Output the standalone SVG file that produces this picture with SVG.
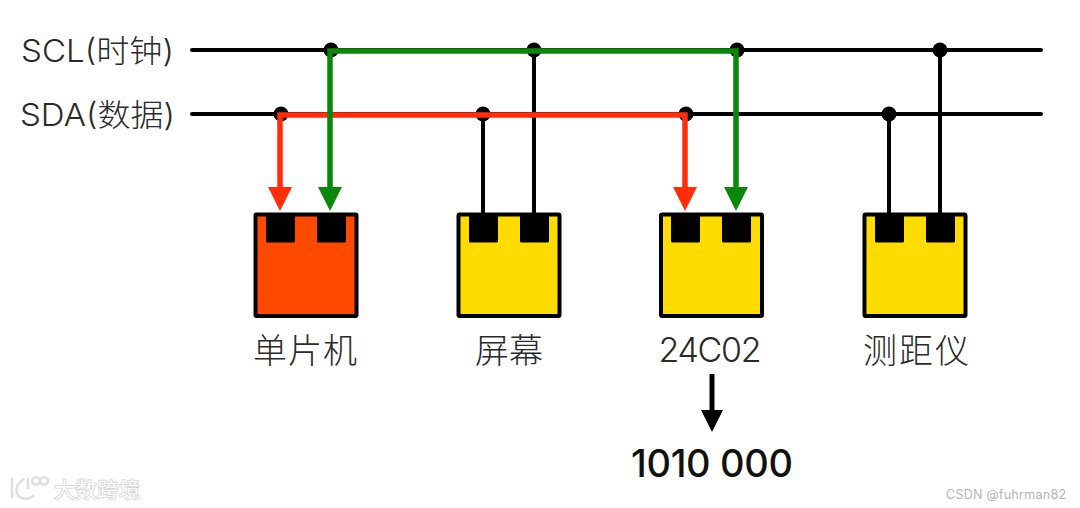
<svg xmlns="http://www.w3.org/2000/svg" width="1080" height="508" viewBox="0 0 1080 508">
<style>
text{font-family:"Inter","Liberation Sans","Noto Sans CJK SC",sans-serif;fill:#2a2a2a}
.lbl{font-size:34px;text-anchor:middle;font-weight:300}
.sig{font-weight:300}
.w{stroke:#000;stroke-width:4;fill:none;stroke-linecap:round}
.g{stroke:#0b870b;stroke-width:5.5;fill:none}
.r{stroke:#ff2d0a;stroke-width:5.5;fill:none}
.box{stroke:#000;stroke-width:4;fill:#ffdc00}
</style>
<defs>
<g id="pins"><rect x="12" y="0" width="29" height="28.5" rx="1.5" fill="#000"/><rect x="63" y="0" width="29" height="28.5" rx="1.5" fill="#000"/></g>
</defs>
<rect width="1080" height="508" fill="#fff"/>
<g id="connectors">
<path class="w" d="M192 50H1041M192 114H1041"/>
<path class="w" d="M483 114V214M534 50V214M889 114V214M940 50V214"/>
<g fill="#000"><circle cx="331" cy="50" r="7.5"/><circle cx="534" cy="50" r="7.5"/><circle cx="737" cy="50" r="7.5"/><circle cx="940" cy="50" r="7.5"/><circle cx="281" cy="114" r="7.5"/><circle cx="483" cy="114" r="7.5"/><circle cx="686" cy="114" r="7.5"/><circle cx="889" cy="114" r="7.5"/></g>
<path class="r" d="M685 188V115H280V188"/>
<path class="g" d="M330 188V51H736V188"/>
<polygon fill="#ff2d0a" points="268,187 292,187 280,211"/>
<polygon fill="#0b870b" points="318,187 342,187 330,211"/>
<polygon fill="#ff2d0a" points="673,187 697,187 685,211"/>
<polygon fill="#0b870b" points="724,187 748,187 736,211"/>
<path d="M712 374V412" stroke="#000" stroke-width="5"/>
<polygon fill="#000" points="701,410 723,410 712,432"/>
</g>
<text class="sig" x="21" y="62" textLength="153" lengthAdjust="spacingAndGlyphs" font-size="31">SCL(时钟)</text>
<text class="sig" x="20" y="126" textLength="155" lengthAdjust="spacingAndGlyphs" font-size="31">SDA(数据)</text>
<g id="mcu"><rect class="box" x="255.5" y="214.5" width="101" height="101.5" rx="1" style="fill:#ff4800"/><use href="#pins" x="254" y="214"/><text class="lbl" x="305" y="363" textLength="104">单片机</text></g>
<g id="screen"><rect class="box" x="458.5" y="214.5" width="101" height="101.5" rx="1"/><use href="#pins" x="457" y="214"/><text class="lbl" x="509" y="363">屏幕</text></g>
<g id="eeprom"><rect class="box" x="661" y="214.5" width="101" height="101.5" rx="1"/><use href="#pins" x="659" y="214"/><text class="lbl" x="710" y="362" textLength="103">24C02</text></g>
<g id="ranger"><rect class="box" x="864.5" y="214.5" width="101" height="101.5" rx="1"/><use href="#pins" x="863" y="214"/><text class="lbl" x="916" y="363" textLength="106">测距仪</text></g>
<text x="712" y="477" text-anchor="middle" textLength="162" style="font-size:38px;font-weight:500;fill:#111">1010 000</text>
<g id="logo" fill="none" stroke="#dedede" stroke-width="2.5"><path d="M12 478V498M24 479C16 484 15 491 18 495C21 500 30 500 34 495M28 478V489"/><ellipse cx="36" cy="481" rx="4" ry="3.5"/><ellipse cx="44" cy="481" rx="4" ry="3.5"/></g>
<text x="54" y="497" textLength="86" style="font-size:21px;font-weight:400;fill:#fff;stroke:#d4d4d4;stroke-width:1.6;paint-order:stroke">大数跨境</text>
<text x="946" y="499" style="font-size:12.5px;fill:#b5b5b5" textLength="120">CSDN @fuhrman82</text>
</svg>
